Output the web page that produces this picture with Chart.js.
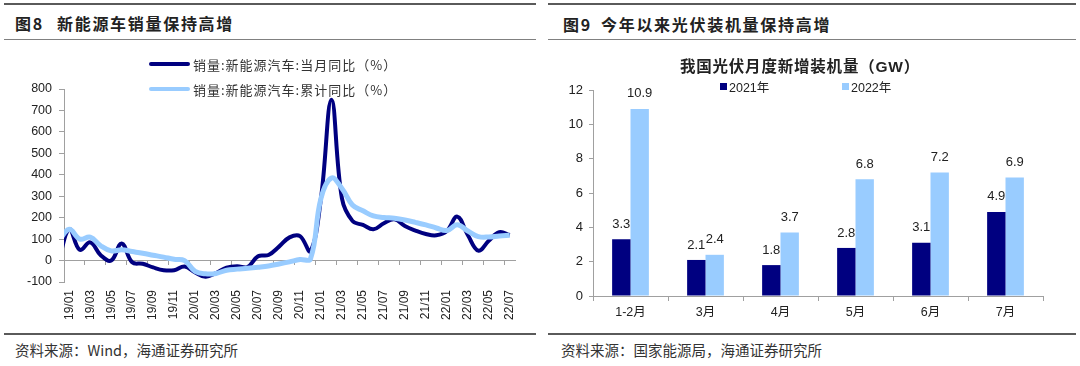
<!DOCTYPE html>
<html>
<head>
<meta charset="utf-8">
<script src="https://cdn.jsdelivr.net/npm/chart.js@4.4.1/dist/chart.umd.min.js"></script>
<style>
body { margin: 0; width: 1080px; height: 366px; background: #fff; position: relative; overflow: hidden;
       font-family: "Noto Sans CJK SC", sans-serif; color: #222; }
.abs { position: absolute; }
.rule-thick { height: 2px; background: #5a5a5a; }
.rule-thin { height: 1px; background: #808080; }
.title { font-weight: bold; font-size: 16px; line-height: 20px; letter-spacing: 1.7px; white-space: nowrap; }
.src { font-size: 14.5px; line-height: 18px; color: #333; white-space: nowrap; }
.leg { display: flex; align-items: center; height: 18px; font-size: 13px; letter-spacing: 1px; color: #333; white-space: nowrap; }
.leg .ln { display: inline-block; width: 41px; height: 4px; margin-right: 3px; border-radius: 2px; }
.leg2 { display: flex; align-items: center; height: 16px; font-size: 12.5px; font-family: "Liberation Sans", "Noto Sans CJK SC", sans-serif; color: #222; white-space: nowrap; }
.leg2 .sq { display: inline-block; width: 7px; height: 7px; margin-right: 2px; }
</style>
</head>
<body>

<!-- left panel -->
<div class="abs rule-thick" style="left:4px;top:3px;width:532px"></div>
<div class="abs title" style="left:15px;top:13px">图8</div>
<div class="abs title" style="left:57px;top:13px">新能源车销量保持高增</div>
<div class="abs rule-thin" style="left:4px;top:39px;width:532px"></div>
<div class="abs" style="left:0;top:40px;width:540px;height:293px"><canvas id="nevChart" width="540" height="293"></canvas></div>
<div class="abs leg" style="left:149px;top:55px"><span class="ln" style="background:#000080"></span><span>销量:新能源汽车:当月同比（%）</span></div>
<div class="abs leg" style="left:149px;top:80px"><span class="ln" style="background:#99ccff"></span><span>销量:新能源汽车:累计同比（%）</span></div>
<div class="abs rule-thick" style="left:4px;top:333px;width:532px"></div>
<div class="abs src" style="left:15px;top:341px">资料来源：Wind，海通证券研究所</div>

<!-- right panel -->
<div class="abs rule-thick" style="left:548px;top:3px;width:528px"></div>
<div class="abs title" style="left:563px;top:14px">图9</div>
<div class="abs title" style="left:601px;top:14px">今年以来光伏装机量保持高增</div>
<div class="abs rule-thin" style="left:548px;top:39px;width:528px"></div>
<div class="abs" style="left:540px;top:40px;width:540px;height:293px"><canvas id="pvChart" width="540" height="293"></canvas></div>
<div class="abs" style="left:650px;top:55px;width:300px;text-align:center;font-weight:bold;font-size:15.5px;letter-spacing:0.8px;line-height:20px;">我国光伏月度新增装机量（<span style="font-family:'Liberation Sans',sans-serif">GW</span>）</div>
<div class="abs leg2" style="left:720px;top:78px"><span class="sq" style="background:#000080"></span><span>2021年</span></div>
<div class="abs leg2" style="left:842px;top:78px"><span class="sq" style="background:#99ccff"></span><span>2022年</span></div>
<div class="abs rule-thick" style="left:548px;top:333px;width:528px"></div>
<div class="abs src" style="left:561px;top:341px">资料来源：国家能源局，海通证券研究所</div>

<script>
// Figure 8: NEV sales YoY, monthly and cumulative (%), first entry is clipped by the axis
const months = [
    '18/12',
    '19/01', '19/02', '19/03', '19/04', '19/05', '19/06', '19/07', '19/08', '19/09', '19/10', '19/11', '19/12',
    '20/01', '20/02', '20/03', '20/04', '20/05', '20/06', '20/07', '20/08', '20/09', '20/10', '20/11', '20/12',
    '21/01', '21/02', '21/03', '21/04', '21/05', '21/06', '21/07', '21/08', '21/09', '21/10', '21/11', '21/12',
    '22/01', '22/02', '22/03', '22/04', '22/05', '22/06', '22/07'
];
const monthlyYoY = [
    0,
    146, 50, 85, 25, 0, 80, -8, -15, -32, -45, -45, -28,
    -55, -76, -58, -33, -26, -30, 20, 26, 65, 108, 114, 44,
    290, 750, 290, 185, 166, 146, 174, 192, 161, 140, 124, 118,
    138, 205, 119, 46, 92, 132, 119
];
const cumulativeYoY = [
    90,
    146, 100, 109, 69, 45, 50, 42, 34, 25, 16, 6, 0,
    -50, -62, -60, -45, -40, -36, -31, -25, -16, -6, 5, 8,
    290, 385, 336, 259, 232, 208, 201, 197, 189, 178, 166, 152,
    140, 167, 138, 112, 110, 115, 118
];
const nevTicks = [-100, 0, 100, 200, 300, 400, 500, 600, 700, 800];

// Figure 9: new PV installations (GW)
const pvCategories = ['1-2月', '3月', '4月', '5月', '6月', '7月'];
const pv2021 = [3.3, 2.1, 1.8, 2.8, 3.1, 4.9];
const pv2022 = [10.9, 2.4, 3.7, 6.8, 7.2, 6.9];

const NAVY = '#000080';
const LIGHT = '#99ccff';
const AXIS = '#a0a0a0';
const FONT = '"Liberation Sans", Arial, "Noto Sans CJK SC", sans-serif';

Chart.defaults.font.family = FONT;
Chart.defaults.color = '#222';

// Left: line chart
new Chart(document.getElementById('nevChart').getContext('2d'), {
    type: 'line',
    data: {
        labels: months,
        datasets: [
            {
                label: '销量:新能源汽车:当月同比（%）',
                data: monthlyYoY,
                borderColor: NAVY,
                borderWidth: 4,
                pointRadius: 0,
                tension: 0.4,
                clip: 0,
                order: 2
            },
            {
                label: '销量:新能源汽车:累计同比（%）',
                data: cumulativeYoY,
                borderColor: LIGHT,
                borderWidth: 5,
                pointRadius: 0,
                tension: 0.4,
                clip: 0,
                order: 1
            }
        ]
    },
    options: {
        responsive: false,
        animation: false,
        layout: { padding: { top: 49, right: 25, left: 0, bottom: 0 } },
        plugins: { legend: { display: false }, tooltip: { enabled: false } },
        scales: {
            x: {
                offset: true,
                min: '19/01',
                grid: { display: false, drawTicks: false },
                border: { display: false },
                ticks: {
                    autoSkip: false,
                    minRotation: 90,
                    maxRotation: 90,
                    padding: 8,
                    font: { size: 12 },
                    callback(value) {
                        return (value - 1) % 2 === 0 ? months[value] : '';
                    }
                },
                afterFit(s) { s.height = 51; }
            },
            // axis line crossing at zero, with its tick marks
            xZero: {
                type: 'category',
                axis: 'x',
                position: { y: 0 },
                offset: true,
                min: '19/01',
                grid: {
                    offset: true,
                    drawOnChartArea: false,
                    tickLength: 4,
                    color: ctx => ctx.index % 2 === 0 ? AXIS : 'rgba(0,0,0,0)'
                },
                border: { color: AXIS, width: 1 },
                ticks: { display: false, autoSkip: false }
            },
            y: {
                min: -100,
                max: 800,
                afterBuildTicks(s) { s.ticks = nevTicks.map(v => ({ value: v })); },
                grid: { drawOnChartArea: false, tickLength: 5, color: AXIS },
                border: { color: AXIS },
                ticks: { padding: 7, font: { size: 12.5 } },
                afterFit(s) { s.width = 64; }
            }
        }
    }
});

// value labels above bars
const barLabels = {
    id: 'barLabels',
    afterDatasetsDraw(chart) {
        const ctx = chart.ctx;
        ctx.save();
        ctx.font = '13px ' + FONT;
        ctx.fillStyle = '#222';
        ctx.textAlign = 'center';
        ctx.textBaseline = 'middle';
        chart.data.datasets.forEach((ds, i) => {
            chart.getDatasetMeta(i).data.forEach((bar, j) => {
                ctx.fillText(ds.data[j].toFixed(1), bar.x, bar.y - 15);
            });
        });
        ctx.restore();
    }
};

// Right: grouped bar chart
new Chart(document.getElementById('pvChart').getContext('2d'), {
    type: 'bar',
    data: {
        labels: pvCategories,
        datasets: [
            { label: '2021年', data: pv2021, backgroundColor: NAVY, categoryPercentage: 0.49, barPercentage: 1 },
            { label: '2022年', data: pv2022, backgroundColor: LIGHT, categoryPercentage: 0.49, barPercentage: 1 }
        ]
    },
    options: {
        responsive: false,
        animation: false,
        layout: { padding: { top: 50, right: 37, left: 0, bottom: 0 } },
        plugins: { legend: { display: false }, tooltip: { enabled: false } },
        scales: {
            x: {
                grid: { offset: true, drawOnChartArea: false, tickLength: 5, color: AXIS },
                border: { color: AXIS },
                ticks: { padding: 4, font: { size: 12.5 } },
                afterFit(s) { s.height = 37; }
            },
            y: {
                min: 0,
                max: 12,
                grid: { drawOnChartArea: false, tickLength: 4, color: AXIS },
                border: { color: AXIS },
                ticks: { stepSize: 2, padding: 6, font: { size: 13 } },
                afterFit(s) { s.width = 53; }
            }
        }
    },
    plugins: [barLabels]
});
</script>
</body>
</html>
